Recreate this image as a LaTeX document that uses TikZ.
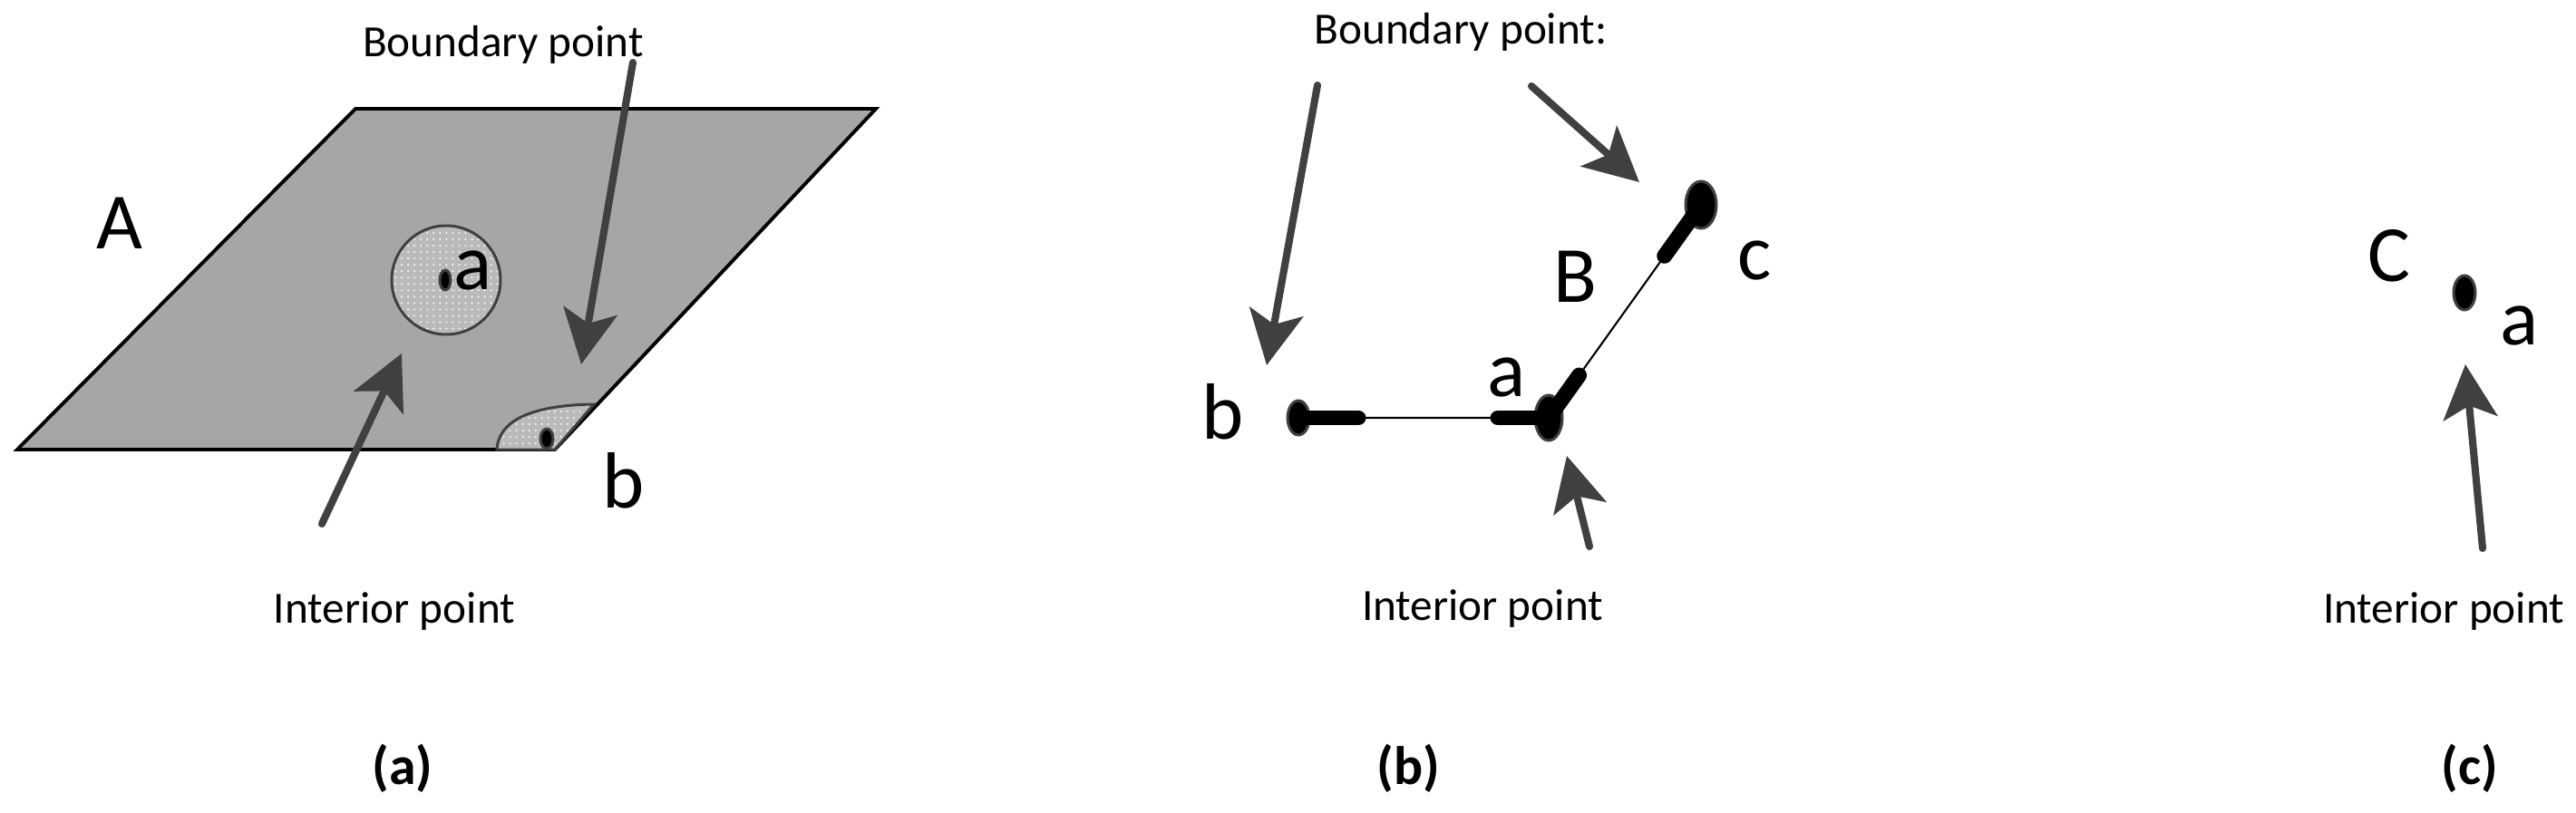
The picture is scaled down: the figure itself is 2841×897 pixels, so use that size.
\documentclass[tikz,border=0pt]{standalone}
\usepackage{fontspec}
\setmainfont{Carlito}
\usetikzlibrary{arrows.meta,calc,patterns.meta}
\definecolor{plane}{HTML}{A6A6A6}
\definecolor{arrgray}{HTML}{404040}
\definecolor{nbhd}{HTML}{BABABA}
\tikzdeclarepattern{
  name=finedots,
  type=uncolored,
  bottom left={(-1pt,-1pt)},
  top right={(1pt,1pt)},
  tile size={(2pt,2pt)},
  code={\pgfpathcircle{\pgfpointorigin}{0.3pt}\pgfusepath{fill}}
}
\begin{document}
\begin{tikzpicture}[x=0.01cm,y=-0.01cm,
  arr/.style={draw=arrgray, line width=2.3pt, line cap=round,
    -{Stealth[length=17pt,width=17pt,inset=4pt]}},
  caption/.style={font=\fontsize{14}{16}\selectfont, inner sep=0pt, anchor=base},
  letter/.style={font=\fontsize{25}{30}\selectfont, inner sep=0pt, anchor=base},
  sub/.style={font=\bfseries\fontsize{17}{20}\selectfont, inner sep=0pt},
  nbhdstyle/.style={preaction={fill=nbhd}, pattern=finedots, pattern color=white,
    draw=arrgray, line width=0.85pt},
  ptstyle/.style={fill=black, draw=arrgray, line width=0.85pt},
  thin/.style={draw=black, line width=0.6pt},
  thick/.style={draw=black, line width=4.8pt, line cap=round}]
\useasboundingbox (0,0) rectangle (2841,897);

% ---------------- panel (a) ----------------
\coordinate (P1) at (19,496);
\coordinate (P2) at (612,496);
\coordinate (P3) at (966,120);
\coordinate (P4) at (392,120);
\filldraw[fill=plane, draw=black, line width=1.1pt] (P1) -- (P2) -- (P3) -- (P4) -- cycle;
\coordinate (ca) at (492,309);
\draw[nbhdstyle] (ca) circle [radius=60];
\coordinate (cb1) at (548,496);
\coordinate (cb2) at (655,446);
\draw[nbhdstyle] (cb1) .. controls (550,462) and (590,447) .. (cb2) -- (P2) -- cycle;
\coordinate (pa1) at (491,309);
\coordinate (pb1) at (603,484);
\draw[ptstyle] (pa1) ellipse [x radius=6, y radius=11];
\draw[ptstyle] (pb1) ellipse [x radius=7, y radius=11];
\node[letter] (Alab) at (132,274) {A};
\node[letter] (alab1) at (522,319) {a};
\node[letter] (blab1) at (688,560) {b};
\node[caption] (bpa) at (555,63) {Boundary point};
\node[caption] (ipa) at (435,687) {Interior point};
\node[sub] (capa) at (444,848) {(a)};
\coordinate (a1t) at (698,69);
\coordinate (a1h) at (641,402);
\coordinate (a2t) at (355,578);
\coordinate (a2h) at (443,390);
\draw[arr] (a1t) -- (a1h);
\draw[arr] (a2t) -- (a2h);

% ---------------- panel (b) ----------------
\coordinate (Bb) at (1432,461);
\coordinate (Ba) at (1708,461);
\coordinate (Bc) at (1876,226);
\draw[thin] (Bb) -- (Ba) -- (Bc);
\draw[ptstyle] (Bb) ellipse [x radius=12, y radius=19];
\draw[ptstyle] (Ba) ellipse [x radius=15, y radius=25];
\draw[ptstyle] (Bc) ellipse [x radius=17, y radius=26];
\draw[thick] (Bb) -- ++(66,0);
\draw[thick] (Ba) -- ++(-56,0);
\draw[thick] (Ba) -- ($(Ba)!0.2!(Bc)$);
\draw[thick] (Bc) -- ($(Bc)!0.24!(Ba)$);
\node[letter] (blab2) at (1349,484) {b};
\node[letter] (alab2) at (1662,437) {a};
\node[letter] (Blab) at (1737,333) {B};
\node[letter] (clab) at (1935,308) {c};
\node[caption] (bpb) at (1611,48) {Boundary point:};
\node[caption] (ipb) at (1635,684) {Interior point};
\node[sub] (capb) at (1553,848) {(b)};
\coordinate (b1t) at (1453,94);
\coordinate (b1h) at (1397,403);
\coordinate (b2t) at (1689,95);
\coordinate (b2h) at (1808,201);
\coordinate (b3t) at (1753,603);
\coordinate (b3h) at (1728,503);
\draw[arr] (b1t) -- (b1h);
\draw[arr] (b2t) -- (b2h);
\draw[arr] (b3t) -- (b3h);

% ---------------- panel (c) ----------------
\coordinate (Ca) at (2718,323);
\draw[ptstyle] (Ca) ellipse [x radius=12, y radius=19];
\node[letter] (Clab) at (2635,310) {C};
\node[letter] (alab3) at (2779,380) {a};
\node[caption] (ipc) at (2695,687) {Interior point};
\node[sub] (capc) at (2724,848) {(c)};
\coordinate (c1t) at (2738,605);
\coordinate (c1h) at (2719,402);
\draw[arr] (c1t) -- (c1h);
\end{tikzpicture}
\end{document}
